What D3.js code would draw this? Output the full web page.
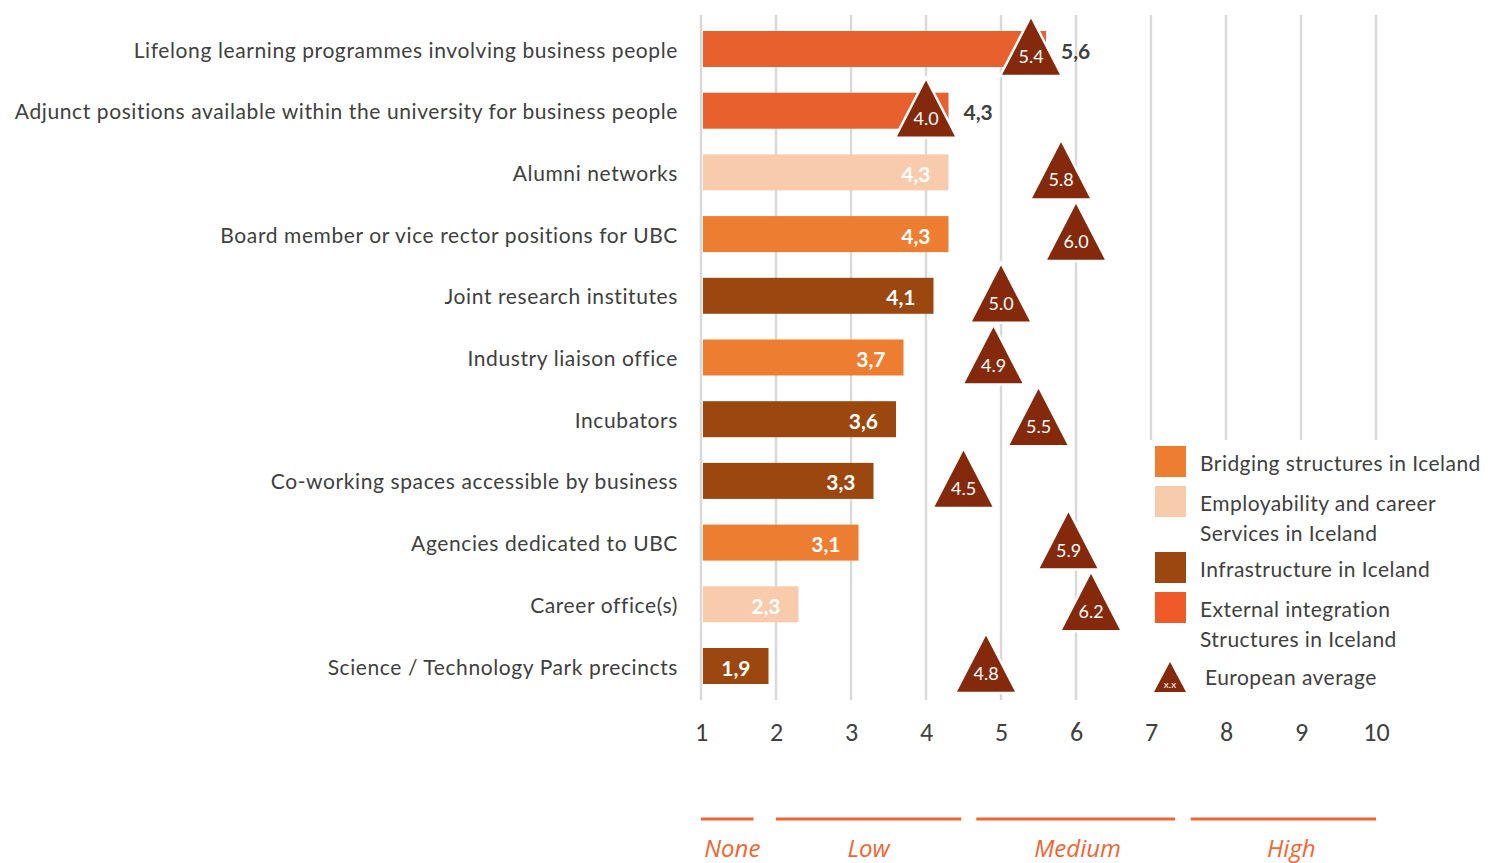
<!DOCTYPE html>
<html>
<head>
<meta charset="utf-8">
<script src="https://cdn.jsdelivr.net/npm/d3@7"></script>
<style>
  html, body { margin: 0; padding: 0; background: #fff; }
  svg { display: block; }
</style>
</head>
<body>
<svg id="chart" width="1500" height="863"></svg>
<script>
// Mechanisms for university-business cooperation, Iceland vs. European average
const categories = [
  "Lifelong learning programmes involving business people",
  "Adjunct positions available within the university for business people",
  "Alumni networks",
  "Board member or vice rector positions for UBC",
  "Joint research institutes",
  "Industry liaison office",
  "Incubators",
  "Co-working spaces accessible by business",
  "Agencies dedicated to UBC",
  "Career office(s)",
  "Science / Technology Park precincts"
];
const icelandValues = [5.6, 4.3, 4.3, 4.3, 4.1, 3.7, 3.6, 3.3, 3.1, 2.3, 1.9];
const europeanAverage = [5.4, 4.0, 5.8, 6.0, 5.0, 4.9, 5.5, 4.5, 5.9, 6.2, 4.8];
const groups = ["External", "External", "Employability", "Bridging", "Infrastructure",
  "Bridging", "Infrastructure", "Infrastructure", "Bridging", "Employability", "Infrastructure"];
// rows whose value label sits outside the bar
const outsideLabel = [true, true, false, false, false, false, false, false, false, false, false];

const ticks = [1, 2, 3, 4, 5, 6, 7, 8, 9, 10];
const levelNames = ["None", "Low", "Medium", "High"];
const levelRanges = [[1, 1.7], [2, 4.47], [4.67, 7.32], [7.53, 10]];

const groupColor = {
  Bridging: "#ED7D31",
  Employability: "#F8CBAD",
  Infrastructure: "#9C470F",
  External: "#E8602D"
};
const legendItems = [
  { key: "Bridging", lines: ["Bridging structures in Iceland"] },
  { key: "Employability", lines: ["Employability and career", "Services in Iceland"] },
  { key: "Infrastructure", lines: ["Infrastructure in Iceland"] },
  { key: "External", lines: ["External integration", "Structures in Iceland"] }
];
const triColor = "#84290B";
const textColor = "#404040";
const font = "Lato, 'Open Sans', sans-serif";

const svg = d3.select("#chart");

const x = d3.scaleLinear().domain([1, 10]).range([701, 1376]);
const y = d3.scalePoint().domain(categories).range([49, 666]);
const barH = 36;

// vertical gridlines
svg.append("g").selectAll("line").data(ticks).join("line")
  .attr("x1", d => x(d)).attr("x2", d => x(d))
  .attr("y1", 15).attr("y2", 700)
  .attr("stroke", "#D9D9D9").attr("stroke-width", 2.5);

// x axis labels
const axis = d3.axisBottom(x).tickValues(ticks).tickSize(0).tickPadding(0);
const ax = svg.append("g").attr("transform", "translate(0,722)").call(axis);
ax.select(".domain").remove();
ax.selectAll("text")
  .attr("font-family", "Calibri, Carlito, 'Open Sans', sans-serif")
  .attr("font-size", 26).attr("fill", textColor).attr("dy", "0.72em");

// category labels
svg.append("g").selectAll("text").data(categories).join("text")
  .attr("x", 678).attr("y", d => y(d))
  .attr("text-anchor", "end").attr("dominant-baseline", "central")
  .attr("font-family", font).attr("font-size", 21).attr("letter-spacing", 0.6)
  .attr("fill", textColor)
  .text(d => d);

// bars
const rows = categories.map((c, i) => ({
  cat: c, v: icelandValues[i], avg: europeanAverage[i], group: groups[i], outside: outsideLabel[i]
}));

svg.append("g").selectAll("rect").data(rows).join("rect")
  .attr("x", x(1) + 2).attr("y", d => y(d.cat) - barH / 2)
  .attr("width", d => x(d.v) - x(1) - 2).attr("height", barH)
  .attr("fill", d => groupColor[d.group]);

// value labels
const fmtComma = v => v.toFixed(1).replace(".", ",");
svg.append("g").selectAll("text").data(rows).join("text")
  .attr("x", d => d.outside ? x(d.v) + 15 : x(d.v) - 18)
  .attr("y", d => y(d.cat) + 1)
  .attr("text-anchor", d => d.outside ? "start" : "end")
  .attr("dominant-baseline", "central")
  .attr("font-family", font).attr("font-weight", 700).attr("font-size", 21)
  .attr("fill", d => d.outside ? textColor : "#fff")
  .text(d => fmtComma(d.v));

// European average triangles
const triUp = 33, triDown = 27, triHalf = 31;
const tri = svg.append("g").selectAll("g").data(rows).join("g")
  .attr("transform", d => `translate(${x(d.avg)},${y(d.cat)})`);
tri.append("path")
  .attr("d", `M0,${-triUp}L${triHalf},${triDown}L${-triHalf},${triDown}Z`)
  .attr("fill", triColor).attr("stroke", "#fff").attr("stroke-width", 2.5)
  .attr("stroke-linejoin", "miter");
tri.append("text")
  .attr("y", 14).attr("text-anchor", "middle")
  .attr("font-family", font).attr("font-size", 18).attr("fill", "#fff")
  .text(d => d.avg.toFixed(1));

// legend
const lg = svg.append("g");
lg.append("rect").attr("x", 1146).attr("y", 440).attr("width", 354).attr("height", 265).attr("fill", "#fff");
const swatchY = [446, 486, 552, 592];
legendItems.forEach((item, i) => {
  lg.append("rect").attr("x", 1155).attr("y", swatchY[i]).attr("width", 31).attr("height", 31)
    .attr("fill", item.key === "External" ? "#F05A28" : groupColor[item.key]);
  item.lines.forEach((line, j) => {
    lg.append("text").attr("x", 1200).attr("y", swatchY[i] + 16 + j * 30)
      .attr("dominant-baseline", "central")
      .attr("font-family", font).attr("font-size", 21).attr("letter-spacing", 0.45)
      .attr("fill", textColor)
      .text(line);
  });
});
lg.append("path").attr("d", "M1170,662L1186,692L1154,692Z").attr("fill", triColor);
lg.append("text").attr("x", 1170).attr("y", 688).attr("text-anchor", "middle")
  .attr("font-family", font).attr("font-size", 10).attr("fill", "#fff").text("x.x");
lg.append("text").attr("x", 1205).attr("y", 676).attr("dominant-baseline", "central")
  .attr("font-family", font).attr("font-size", 21).attr("letter-spacing", 0.45)
  .attr("fill", textColor).text("European average");

// level bands under the axis
const levelLabelShift = [5, 0, 2, 8];
const lv = svg.append("g");
lv.selectAll("line").data(levelRanges).join("line")
  .attr("x1", d => x(d[0])).attr("x2", d => x(d[1]))
  .attr("y1", 819).attr("y2", 819)
  .attr("stroke", "#F26531").attr("stroke-width", 3);
lv.selectAll("text").data(levelNames).join("text")
  .attr("x", (d, i) => (x(levelRanges[i][0]) + x(levelRanges[i][1])) / 2 + levelLabelShift[i])
  .attr("y", 857).attr("text-anchor", "middle")
  .attr("font-family", "'Open Sans', sans-serif").attr("font-style", "italic")
  .attr("font-size", 24).attr("fill", "#F26531")
  .text(d => d);
</script>
</body>
</html>
